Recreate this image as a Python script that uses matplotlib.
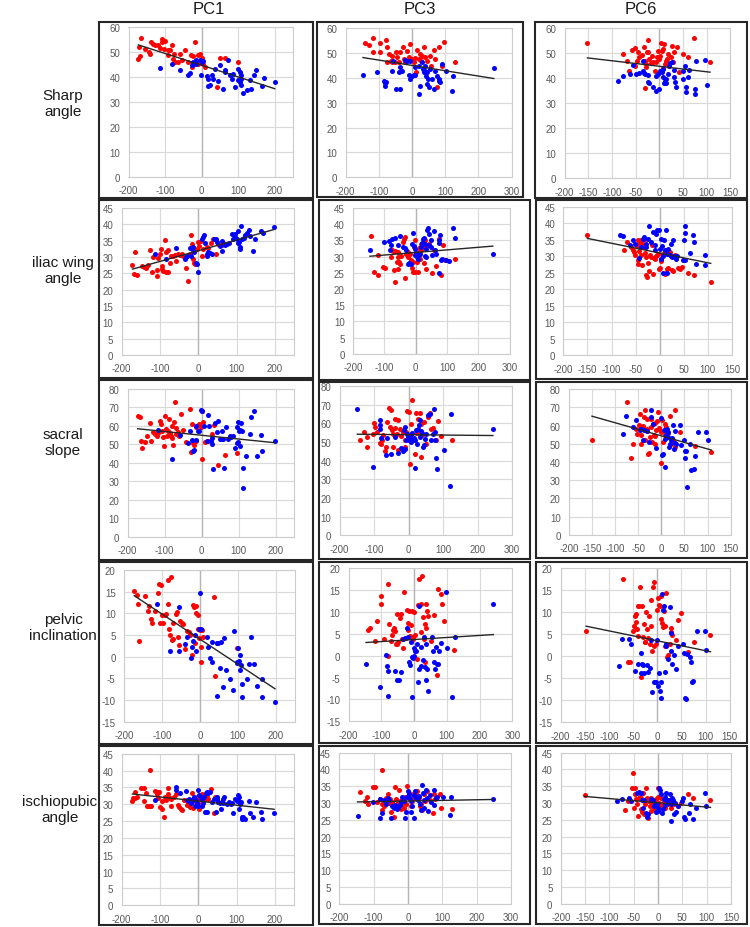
import numpy as np
import matplotlib
matplotlib.use('Agg')
import matplotlib.pyplot as plt
from matplotlib.patches import Rectangle

plt.rcParams['font.family'] = ['Liberation Sans', 'DejaVu Sans']
plt.rcParams['axes.unicode_minus'] = False

# ---------------- labels / ticks ----------------
COL_TITLES = ['PC1', 'PC3', 'PC6']
ROW_TITLES = ['Sharp\nangle', 'iliac wing\nangle', 'sacral\nslope', 'pelvic\ninclination', 'ischiopubic\nangle']

X_TICKS = [[-200, -100, 0, 100, 200], [-200, -100, 0, 100, 200, 300],
           [-200, -150, -100, -50, 0, 50, 100, 150]]
X_LIMS = [(-200, 250), (-200, 300), (-200, 150)]
Y_TICKS = [list(range(0, 61, 10)), list(range(0, 46, 5)), list(range(0, 81, 10)),
           list(range(-15, 21, 5)), list(range(0, 46, 5))]

# ---------------- data (x = PC score, y = measure) ----------------
SHARP_PC1_RED = [(-165,55.6),(-171,52),(-173,47.3),(-168,48.4),(-138,54),(-145,50),(-141,49.3),(-127,52.7),(-132,53.3),(-107,55.3),(-109,54),(-100,54.3),(-102,51.3),(-114,51.6),(-91,50.7),(-82,52.7),(-86,51),(-75,49.3),(-77,47.3),(-73,46),(-59,49.3),(-45,50.7),(-55,46.7),(-36,46),(-29,48.7),(-18,54),(-23,48.4),(-11,48.7),(-5,49.3),(0,47.6),(-18,45.3),(-9,45.3),(-27,44),(5,45.3),(9,44),(50,47.6),(64,47.6),(100,46),(41,36),(-64,46),(-93,48.9),(-118,52.7),(-155,51.3)]
SHARP_PC1_BLUE = [(-115,43.6),(-82,45.3),(-59,42.7),(-36,40.7),(-32,41.7),(-23,46),(-16,46.7),(-14,45.3),(-5,47),(0,46),(5,46.3),(-2,40.7),(14,40.4),(18,39.3),(29,40.9),(36,43.3),(45,38.3),(50,45),(23,37),(18,36.4),(59,35.3),(64,42),(73,46.7),(77,40.7),(86,41.3),(91,36),(100,43.3),(105,42),(109,40.7),(109,39.3),(105,38),(107,37),(114,33.7),(123,35),(135,35.3),(132,38.7),(144,40.9),(150,42.7),(164,36.4),(171,39.6),(200,38),(82,39.3),(64,43),(-27,45),(32,39.3),(100,38.7)]

SHARP_PC3_RED = [(-141,53.9),(-129,53.1),(-119,55.8),(-119,50.5),(-98,53.9),(-98,50.5),(-78,55.3),(-75,52.2),(-70,49.5),(-65,46.9),(-60,48.9),(-50,50.2),(-52,46.5),(-45,48.2),(-35,50.2),(-28,52.2),(-25,47.5),(-20,46.2),(-15,50.9),(-5,53.5),(-10,48.2),(0,47.5),(5,46.2),(10,47.8),(15,51.3),(20,47.5),(25,49.5),(28,46.9),(30,48.9),(35,52.2),(40,48.2),(45,46.9),(55,48.9),(65,51.3),(58,44.8),(68,47.5),(82,52.2),(95,54.5),(90,44.8),(129,46.2),(12,42.4),(75,36.1),(-60,46.5),(-40,46.2),(-75,46.2)]
SHARP_PC3_BLUE = [(-148,41.1),(-106,42.4),(-85,38.8),(-82,37.9),(-78,38.2),(-82,36.8),(-62,42.8),(-58,46.9),(-50,35.5),(-35,35.5),(-40,42.2),(-30,42.8),(-22,47.3),(-15,46.9),(-5,46.9),(-10,41.1),(-5,39.5),(0,40.6),(5,41.1),(10,41.1),(20,33.5),(25,36.8),(30,46.2),(32,43.5),(38,44.8),(35,42.2),(40,42.8),(42,40.8),(45,42.2),(48,39.5),(45,37.5),(50,36.1),(55,43.5),(60,39.5),(65,35.5),(70,42.8),(75,40.8),(80,39.5),(85,38.2),(82,38.8),(90,45.5),(102,42.8),(121,34.8),(123,40.8),(246,43.8),(10,44.2),(20,44.8),(-35,44.2)]

SHARP_PC6_RED = [(-152,54),(-77,49.6),(-69,46.9),(-58,51.3),(-51,51.9),(-51,44.9),(-48,46.9),(-46,50.3),(-42,48.3),(-37,49.2),(-32,52.3),(-30,46.9),(-28,45.6),(-27,50.3),(-23,55.3),(-21,47.6),(-23,50.5),(-28,44.3),(-16,48.9),(-13,46.3),(-9,43),(-6,46.3),(-4,48.3),(-2,50.9),(0,47.6),(1,48.9),(3,54),(5,50.9),(7,51.6),(10,53.6),(12,45.6),(14,46.9),(17,47.6),(19,49.6),(21,44.9),(24,48.3),(26,52.9),(28,46.5),(30,50.3),(37,52.3),(42,42.3),(49,49.6),(61,48.3),(73,55.9),(107,46.5),(-65,43),(-30,35.9),(8,43.9),(-18,46)]
SHARP_PC6_BLUE = [(-87,39),(-77,40.7),(-62,41.6),(-56,45.2),(-49,41.6),(-42,42),(-35,46.9),(-34,43),(-32,42),(-30,41.6),(-25,41.2),(-23,38.3),(-21,38),(-14,36.3),(-6,41),(-6,35),(0,35.6),(1,43),(5,42.3),(7,43.6),(8,40.3),(10,38),(12,39),(15,39.6),(19,41.6),(21,44.9),(23,46),(26,46.3),(30,43.4),(31,40.3),(33,38.3),(35,36.3),(51,43),(51,39.6),(54,44.9),(56,36.3),(56,34.3),(61,40.3),(63,43.4),(75,35.6),(75,33.6),(77,46.9),(96,47.3),(100,37.2),(-2,41.6),(14,38)]

ILIAC_PC1_RED = [(-172,27.5),(-165,31.6),(-167,24.8),(-161,24.5),(-148,27.1),(-143,26.8),(-137,26.5),(-132,27.5),(-126,32.2),(-122,25.5),(-117,29.9),(-109,26.1),(-107,24.3),(-104,29.6),(-100,30.9),(-97,32.4),(-96,26.3),(-91,25.8),(-87,35.2),(-85,31.4),(-83,25.5),(-78,25.5),(-78,32.2),(-74,28.3),(-70,30.4),(-65,30.2),(-61,30.6),(-57,28.8),(-52,30.9),(-48,30.6),(-43,30.9),(-39,30.4),(-33,26.5),(-28,22.8),(-22,30.9),(-19,36.7),(-17,33.9),(-13,29.4),(-10,28.3),(-9,32.2),(-4,32.4),(0,34.6),(2,33.4),(7,34.9),(9,30.4),(13,32.6),(22,33.2),(26,32.9),(33,34.4),(39,35.4),(45,30.9),(52,33.9),(61,33.6),(70,33.9),(-9,27.8),(-96,27.1)]
ILIAC_PC1_BLUE = [(-113,30.9),(-83,29.4),(-57,32.9),(-35,29.4),(-33,29.9),(-22,32.9),(-19,30.2),(-17,32.6),(-13,33.2),(-10,31.6),(-7,28.1),(-4,27.8),(0,25.5),(9,35.4),(13,36.2),(16,36.7),(22,30.4),(24,30.9),(26,31.6),(30,31.2),(35,30.9),(42,35.6),(45,35.4),(50,34.6),(57,33.4),(61,31.9),(63,34.9),(70,33.6),(74,33.9),(80,34.2),(87,37),(91,35.4),(96,36.2),(100,35.6),(103,34.4),(106,34.6),(109,33.2),(109,32.4),(111,39.5),(113,35.4),(120,35.9),(123,36.7),(126,37.5),(132,38.3),(135,36.5),(143,31.9),(148,35.6),(163,38),(170,37.3),(198,39.3),(104,38),(96,37),(-30,30.4),(17,34.4)]

ILIAC_PC3_RED = [(-141,36.3),(-132,25.2),(-120,24.2),(-120,30.4),(-104,26.8),(-98,26.6),(-79,29.9),(-75,31.9),(-72,31.7),(-69,25.7),(-67,22.1),(-65,31.7),(-61,28.3),(-58,29.9),(-56,26.3),(-54,28.3),(-51,27.8),(-46,30.1),(-40,34.5),(-37,35.5),(-33,23.5),(-30,30.9),(-26,31.4),(-24,29.9),(-19,30.7),(-14,29),(-12,26.6),(-8,25.2),(-5,33),(-3,35),(-1,25.2),(2,30.9),(5,28.3),(7,25.2),(10,32.7),(13,31.7),(16,31.9),(18,34),(23,33),(26,28),(29,35),(34,26.3),(39,33.5),(44,34),(52,24.9),(58,31.9),(66,27),(76,35.5),(81,24.4),(87,33.5),(92,29),(124,29.4),(-33,36),(-56,31.4),(13,29.4),(-8,28.3)]
ILIAC_PC3_BLUE = [(-146,31.9),(-101,34.5),(-86,34.8),(-83,31.9),(-79,33.5),(-77,35.5),(-65,35.8),(-58,33.5),(-51,36.3),(-40,33),(-35,32.7),(-30,32.1),(-26,27.8),(-22,28),(-16,27.6),(-12,34),(-8,37.3),(-5,33.2),(-3,32.4),(-1,30.4),(2,31.1),(5,29.9),(7,29.4),(10,30.4),(13,30.7),(16,33),(20,34.2),(23,35.5),(26,35.8),(29,30.1),(31,34),(34,32.4),(37,38.1),(39,38.9),(41,36.9),(44,33.5),(48,35),(50,33),(52,30.4),(58,37.9),(62,31.9),(66,30.9),(73,35),(76,34.2),(79,36.6),(81,29),(84,29.4),(97,28.8),(105,28.6),(119,38.9),(124,35.8),(246,30.7),(76,24.9),(34,29.9)]

ILIAC_PC6_RED = [(-150,36.4),(-74,32.1),(-67,34.4),(-60,32.9),(-55,31.9),(-53,31.3),(-52,30.3),(-48,33.1),(-46,28.8),(-45,27.8),(-44,34.1),(-42,31.6),(-39,30.3),(-38,34.9),(-37,27.3),(-35,33.9),(-33,32.9),(-31,31),(-30,35.4),(-28,24.3),(-26,23.8),(-24,28),(-23,25.6),(-21,30.3),(-19,29.8),(-17,33.4),(-14,24.8),(-10,29.3),(-7,30),(-5,30.3),(-3,30.6),(-2,26.3),(0,26.6),(2,28.6),(3,29.3),(7,30.8),(10,24.8),(12,31.6),(14,25),(16,26.3),(17,26.6),(21,31.3),(24,30),(26,25.8),(28,25.6),(38,26.6),(42,26.3),(46,26.8),(59,25),(71,24.3),(106,22.2),(-46,35.1),(-28,29.8),(-12,29.6),(31,30.3)]
ILIAC_PC6_BLUE = [(-83,36.4),(-76,36.1),(-62,33.4),(-55,35.1),(-52,33.9),(-44,29.6),(-39,32.9),(-35,35.4),(-33,35.9),(-28,33.9),(-24,35.4),(-23,39.1),(-19,34.4),(-14,37.4),(-10,33.4),(-7,36.9),(-5,38.1),(-2,37.9),(0,32.4),(2,35.4),(3,29.3),(5,33.1),(7,30),(9,34.9),(10,31.9),(14,37.9),(16,30.8),(17,32.4),(21,30.3),(23,33.9),(26,29.8),(28,35.1),(30,30),(33,29.3),(37,30),(48,28.8),(51,34.9),(52,29),(52,39.1),(53,37.1),(64,31),(69,36.4),(71,34.4),(76,27.8),(95,30.3),(95,27.3),(7,25),(16,25),(-10,31.9),(-28,32.9)]

SACRAL_PC1_RED = [(-173,65.5),(-167,65),(-164,51.7),(-162,48),(-149,54.7),(-140,61.4),(-137,51.6),(-131,56.5),(-126,55.6),(-122,54.7),(-117,55.9),(-113,62.8),(-110,61),(-106,57.4),(-104,53.8),(-101,49.3),(-97,58.3),(-95,54.7),(-92,57),(-88,63.7),(-86,55.9),(-83,54.7),(-81,60.1),(-79,53.4),(-77,49.8),(-74,61.9),(-72,72.7),(-70,58.8),(-68,55.6),(-63,56.5),(-61,54.7),(-56,66.4),(-50,57.7),(-41,51.1),(-32,69.1),(-29,45.7),(-25,61),(-23,50.5),(-20,49.8),(-16,51.6),(-14,59.5),(-7,61),(-2,59.5),(0,68.2),(2,42.1),(5,61.9),(9,51.1),(18,51.6),(29,55.6),(34,60.6),(43,39),(63,44.4),(97,45.1),(-153,51.1),(-99,65.5)]
SACRAL_PC1_BLUE = [(-117,57.7),(-81,42.1),(-59,55.2),(-36,50.5),(-32,57.4),(-27,52.3),(-23,46.6),(-20,46.9),(-16,60.1),(-14,52.3),(-11,57.4),(-7,57),(-2,68.6),(2,68.2),(7,60.1),(14,52),(16,66),(20,60.1),(25,51.6),(29,50.2),(29,53.4),(32,36.7),(36,61.4),(41,56.5),(45,62.8),(50,52.9),(54,52.9),(59,52.9),(61,37.2),(65,59.2),(72,52.9),(77,54.7),(79,54.1),(86,54.7),(90,48),(95,50.5),(97,59.2),(99,61.9),(101,57.4),(104,57.7),(104,49.3),(106,61.4),(110,57.4),(113,37.2),(113,26.4),(119,43.9),(131,55.6),(133,65),(142,68.2),(149,43.9),(160,55.2),(164,46.2),(198,51.6),(99,51.1),(54,57.4)]

SACRAL_PC3_RED = [(-142,50.9),(-129,55.4),(-120,52.7),(-120,47.3),(-103,54.5),(-101,60.2),(-97,58),(-91,55.4),(-84,49.5),(-81,48.8),(-77,51.3),(-75,53.6),(-70,45.2),(-65,47.3),(-62,60.7),(-58,68.4),(-55,58),(-52,67.3),(-48,56.6),(-45,54.1),(-41,62.5),(-39,57.7),(-33,54.5),(-31,61.6),(-26,57.1),(-21,53),(-16,55.4),(-12,47.3),(-10,50.9),(-7,55.4),(-4,66.6),(0,66.1),(3,38.4),(6,54.1),(8,59.8),(12,50.9),(10,72.5),(19,43.8),(22,65.5),(25,54.8),(27,62.5),(32,65.5),(35,59.5),(37,42),(39,53.6),(44,60.7),(51,49.1),(56,63.4),(61,65.5),(66,57.1),(71,57.7),(80,50.9),(85,61.3),(93,53),(126,50.9),(-31,45.5),(-45,47.3)]
SACRAL_PC3_BLUE = [(-149,67.9),(-103,36.6),(-84,61.6),(-84,58.9),(-84,57.1),(-81,52.3),(-65,42.9),(-62,52.3),(-52,43.4),(-39,52.7),(-31,44.1),(-23,47),(-16,45.2),(-14,56.3),(-12,58),(-10,46.4),(-7,50.9),(-4,54.5),(-2,52.7),(0,51.3),(3,53),(6,50),(8,50.9),(10,54.8),(15,52.3),(19,36.3),(22,56.3),(25,48.8),(27,57.1),(29,58.9),(32,61.6),(35,55.9),(39,54.8),(42,47.3),(44,48.2),(46,51.8),(51,54.1),(56,64.3),(61,64.8),(66,50.9),(71,54.1),(73,67.9),(75,50.9),(77,55.4),(80,41.6),(83,35.7),(102,45.9),(119,26.3),(122,65.2),(244,57.1),(32,52.7),(17,51.3)]

SACRAL_PC6_RED = [(-150,51.9),(-74,73),(-66,42.4),(-61,50.1),(-54,58.3),(-52,55.2),(-49,60.2),(-47,66.6),(-45,54.7),(-43,49.7),(-40,59.6),(-38,64.8),(-36,51.9),(-35,68.4),(-32,57.1),(-30,58.3),(-29,44.2),(-27,45),(-25,53.8),(-23,59.3),(-22,63.9),(-20,51),(-18,61.1),(-16,54.7),(-14,61.5),(-13,54.1),(-11,57.4),(-9,62.6),(-7,67.5),(-6,58.9),(-4,58.3),(-1,39.4),(0,56.5),(1,62.9),(4,51),(6,57.1),(7,61.1),(9,54.7),(11,59.3),(13,53.8),(14,56),(18,65.1),(20,49.7),(23,52.8),(25,51.9),(29,48.3),(30,68.8),(40,56.5),(72,48.6),(108,45.5),(-32,63.9),(-13,50.1)]
SACRAL_PC6_BLUE = [(-83,55.6),(-76,65.1),(-61,59.3),(-54,62.9),(-47,57.8),(-43,58.3),(-40,52.3),(-38,57.8),(-32,57.1),(-27,51),(-23,68.4),(-22,64.8),(-18,61.1),(-11,47.9),(0,64.4),(1,43.7),(4,44.6),(6,57.4),(7,37.2),(9,52.8),(11,54.7),(13,58.3),(14,56.5),(16,48.3),(18,49.7),(20,51.9),(23,53.4),(25,60.2),(27,47.3),(29,57.1),(30,50.5),(32,49.7),(40,60.2),(42,49.2),(49,52.3),(51,46.1),(52,42.4),(54,46.1),(56,26.2),(63,49.7),(65,35.8),(71,36.3),(74,43.1),(79,56.5),(97,56.5),(100,51.9),(14,53.8)]

PELVIC_PC1_RED = [(-173,15.2),(-167,14.2),(-164,12.2),(-161,3.7),(-145,14),(-138,10.6),(-135,11.7),(-129,8.8),(-126,7.7),(-119,10.6),(-110,14.6),(-107,16.8),(-106,7.8),(-103,16.5),(-99,9.6),(-97,7.8),(-92,9.6),(-88,9.8),(-85,17.7),(-85,12.2),(-82,6.3),(-79,5),(-75,18.3),(-73,3.8),(-70,4),(-64,9.8),(-59,10.2),(-57,4.6),(-55,2.7),(-53,8.3),(-48,7.7),(-44,7.5),(-38,1.7),(-33,6),(-29,5.8),(-26,5.2),(-22,0.4),(-18,11.9),(-15,11.4),(-13,3.1),(-11,11.7),(-9,10),(-6,9.6),(-4,6.3),(-3,4.2),(0,6.2),(3,2.2),(4,-1.2),(6,6.2),(9,4.6),(38,13.7),(41,-4.5),(44,3.2),(97,1.9),(-26,5),(-70,7.7)]
PELVIC_PC1_BLUE = [(-114,12.2),(-79,1.4),(-55,11.4),(-55,1.4),(-38,2.9),(-33,4.5),(-24,-0.2),(-22,2.2),(-18,3.7),(-13,5),(-9,1.4),(-3,6.3),(0,14.6),(3,6.3),(18,4.5),(22,2.2),(26,-0.2),(31,3.5),(33,-1.2),(44,3.2),(48,3.2),(53,-2.7),(57,3.5),(62,-7.1),(64,4.2),(70,-3.1),(79,-5.2),(88,-7.7),(91,6),(97,-1.2),(99,-1.4),(101,1.9),(103,-0.9),(106,-3.1),(108,-1.9),(110,-6.2),(112,-9.2),(123,-5.2),(129,-1.7),(136,4.5),(143,-1.7),(150,-6.8),(163,-9.2),(164,-5.2),(198,-10.4),(44,-9.1),(106,0.4)]

PELVIC_PC3_RED = [(-142,5.9),(-134,6.2),(-120,3.4),(-114,7.8),(-102,11.8),(-102,13.5),(-81,16.4),(-79,0),(-76,7.2),(-71,3.4),(-69,4.7),(-66,5.9),(-61,6.2),(-59,5.7),(-56,2.7),(-53,9.5),(-51,2.7),(-49,3.2),(-43,8.5),(-39,9.5),(-36,3.7),(-33,1.7),(-30,14.6),(-25,4),(-22,10.5),(-18,5.9),(-15,10.3),(-12,4.4),(-10,7),(-8,10.3),(-5,3.8),(-2,4.2),(0,10),(2,4.6),(8,-0.8),(12,11.6),(15,17.4),(20,5.3),(22,11.8),(25,18.1),(28,8.8),(30,3.8),(33,7.2),(36,6.2),(33,-1.4),(36,11.8),(39,10.3),(43,9.1),(51,3.4),(61,9.3),(69,-4.4),(73,15.1),(83,14.1),(86,11.8),(91,8),(122,1.4),(-91,3.8),(-20,7.5)]
PELVIC_PC3_BLUE = [(-147,-1.9),(-104,-7.2),(-86,0.2),(-83,-2.4),(-81,-9.1),(-79,-3.4),(-59,-3.4),(-51,-5.5),(-46,-5.5),(-41,-3.7),(-33,3.8),(-28,4),(-22,6.2),(-18,4.2),(-15,-1.4),(-12,-2.1),(-10,3.2),(-8,-0.4),(-5,-0.4),(-2,-0.6),(0,0),(2,1.1),(5,1.1),(8,2.7),(12,-6.1),(15,11.4),(15,-3),(20,1.9),(22,-2.4),(28,-1.1),(30,4.2),(33,-2.7),(36,-5.5),(39,-3),(43,-8),(56,4.2),(59,1.1),(61,-1.4),(63,-3),(66,1.9),(69,-1.9),(73,-1.9),(76,1.1),(81,2.9),(96,14.5),(99,1.7),(117,-9.5),(124,4.2),(242,11.8),(0,1.7),(-8,-9.5),(36,2.7)]

PELVIC_PC6_RED = [(-147,5.8),(-71,17.6),(-61,-1.4),(-57,-1.2),(-50,5.8),(-48,7),(-46,9.1),(-45,9.6),(-43,7.7),(-41,6.2),(-39,11.5),(-37,11.4),(-35,15.7),(-33,-4.8),(-32,11.4),(-30,4.3),(-28,7.3),(-26,3.2),(-25,3.3),(-23,10),(-21,6.2),(-19,4.1),(-18,9.1),(-16,2.8),(-14,7),(-12,12.7),(-11,1.3),(-9,15.7),(-7,2.4),(-6,17),(-2,2.8),(0,10.6),(1,13.2),(3,11.7),(5,11.5),(7,13.8),(8,8.5),(10,7.6),(12,6.6),(14,10.2),(15,7),(19,14.5),(21,-0.2),(22,0.2),(26,2.8),(28,5.5),(29,6.4),(30,4.8),(39,3.6),(43,8.3),(50,9.8),(63,0.9),(76,3.3),(110,4.8),(15,2.4),(-40,4.7)]
PELVIC_PC6_BLUE = [(-80,-2.1),(-73,3.9),(-59,3.9),(-54,2.8),(-47,-3.3),(-39,-1.7),(-34,-3.8),(-33,0.8),(-32,-1.7),(-30,-2),(-28,-3.8),(-21,-2),(-19,-3.6),(-16,-2.7),(-12,3.8),(-11,-8.2),(-6,-5.9),(-2,-5.8),(0,3.6),(1,-6.8),(3,-3.8),(5,-7.8),(7,-5.8),(8,-9.5),(10,14.2),(12,10.6),(14,11.4),(15,-3.5),(17,2.8),(19,2.4),(22,-0.5),(26,11.1),(28,5.3),(29,1.1),(30,-1.7),(34,0.3),(39,-2.9),(43,2.3),(53,2.8),(55,0.8),(57,-9.5),(60,-9.7),(62,0.5),(67,-0.2),(70,-1.2),(72,-5.9),(74,-5.5),(83,5.8),(99,5.8),(101,1.5)]

ISCHIO_PC1_RED = [(-172,31),(-170,32),(-165,33.7),(-165,32),(-161,32.3),(-150,34.7),(-143,34.7),(-141,31),(-137,33.3),(-135,29.5),(-129,29.5),(-126,40.2),(-123,29.5),(-113,34),(-109,33),(-106,33.7),(-104,32),(-102,33.7),(-100,29.3),(-96,31),(-94,28.7),(-89,26.3),(-87,32.3),(-83,31.3),(-80,34.7),(-78,33),(-74,32),(-70,31.7),(-63,32.3),(-57,33),(-54,29.7),(-50,29.3),(-45,28.7),(-42,28.3),(-37,31.3),(-30,29.7),(-26,30.3),(-22,29.3),(-17,33.5),(-16,30.7),(-13,29),(-9,32),(-4,32.3),(-2,30.3),(2,28.7),(4,31.5),(9,33),(10,32.3),(16,31.3),(22,32.3),(26,31.7),(33,34.5),(42,27.5),(43,32.3),(52,30.7),(-70,29.5)]
ISCHIO_PC1_BLUE = [(-113,31.3),(-57,35),(-57,34.3),(-48,33.3),(-33,34),(-30,31.3),(-24,31.7),(-22,30.7),(-19,30.3),(-17,31),(-13,31.5),(-10,32.3),(-9,29.5),(-7,31.3),(-4,30.3),(-2,29.5),(0,34.3),(2,32.7),(7,32.3),(10,31.5),(13,30.3),(16,32.3),(17,27.7),(19,33.3),(22,33.7),(24,27.7),(26,33.5),(30,33.7),(37,30.7),(42,31.7),(45,27.7),(48,31.5),(50,32.3),(52,30.7),(57,30.3),(59,28.5),(63,30.7),(65,31.7),(68,32.3),(74,30),(80,30.7),(85,30),(89,30.3),(91,27.3),(96,31.7),(100,31),(103,32.7),(104,31.3),(106,32.3),(106,28.5),(109,30),(111,30.7),(113,26.3),(115,25.7),(117,26.3),(122,25.7),(132,31),(135,27.5),(143,26.3),(150,30.7),(163,27.7),(167,25.7),(198,27.5),(65,30.3),(9,29.5)]

ISCHIO_PC3_RED = [(-140,33.3),(-126,30.6),(-118,31.8),(-116,29.6),(-102,34.8),(-95,34.8),(-89,30.4),(-82,31.1),(-77,29.6),(-76,27.8),(-70,29.1),(-63,31.4),(-58,32.6),(-56,30.1),(-53,31.1),(-50,27.4),(-46,30.4),(-41,25.8),(-37,34.8),(-34,31.1),(-31,29.8),(-27,33.8),(-24,30.6),(-21,28.1),(-17,29.8),(-12,28.6),(-8,31.8),(-5,29.6),(-2,35.1),(2,33.1),(5,31.1),(8,29.1),(12,30.6),(15,32.6),(19,31.4),(24,32.4),(27,33.6),(31,31.4),(34,29.1),(37,29.8),(41,27.8),(46,32.8),(50,30.6),(56,33.6),(63,30.8),(73,27.1),(76,32.6),(79,31.1),(92,32.6),(95,28.4),(128,28.1),(-76,39.7)]
ISCHIO_PC3_BLUE = [(-147,26.1),(-102,30.4),(-82,31.1),(-82,25.4),(-76,27.1),(-70,30.8),(-63,29.8),(-58,31.4),(-56,30.8),(-50,25.4),(-46,29.1),(-41,28.4),(-37,29.4),(-31,28.1),(-29,28.6),(-24,29.4),(-21,30.4),(-17,31.8),(-12,30.6),(-8,25.4),(-5,27.4),(-2,31.8),(0,33.6),(2,32.8),(5,31.4),(8,27.4),(10,30.6),(12,29.1),(17,25.4),(21,33.6),(24,31.4),(27,31.8),(29,30.8),(31,32.1),(34,29.6),(39,27.8),(41,35.4),(44,33.1),(46,30.8),(48,28.6),(53,33.8),(56,31.4),(58,27.6),(63,32.4),(68,30.4),(76,29.4),(77,33.8),(82,31.4),(85,31.8),(102,31.8),(121,26.4),(124,31.8),(247,31.1),(17,32.4)]

ISCHIO_PC6_RED = [(-151,32.4),(-67,27.8),(-62,30.6),(-53,34.6),(-51,39),(-49,28.6),(-48,32.8),(-47,34.4),(-45,31.1),(-43,29.6),(-40,31.4),(-38,31.8),(-36,31.4),(-34,28.1),(-33,27.4),(-31,33.1),(-29,26.6),(-27,30.8),(-26,29.8),(-24,34.4),(-22,31.4),(-21,25.6),(-19,30.6),(-17,29.1),(-15,30.4),(-14,31.4),(-10,29.8),(-8,28.6),(-7,27.8),(-5,31.1),(-3,29.4),(-1,31.8),(0,28.1),(1,34.6),(3,30.1),(5,28.4),(7,31.4),(8,29.8),(10,31.1),(12,29.1),(14,30.1),(15,28.4),(17,30.8),(21,29.6),(22,30.8),(26,28.6),(29,30.1),(33,29.6),(41,29.1),(47,30.1),(62,32.6),(72,31.4),(108,30.8),(-41,26.1),(-14,27.6)]
ISCHIO_PC6_BLUE = [(-84,30.6),(-74,31.1),(-60,31.4),(-55,30.6),(-43,33.1),(-40,33.4),(-36,33.1),(-33,30.8),(-31,28.6),(-29,30.8),(-24,27.1),(-22,25.8),(-21,26.6),(-15,31.1),(-10,30.8),(-8,29.1),(-5,27.4),(-3,29.6),(-1,27.6),(1,28.6),(3,34.4),(5,33.8),(7,32.6),(8,27.1),(10,28.1),(12,31.1),(14,31.8),(15,29.4),(17,33.1),(19,30.1),(21,30.8),(24,32.6),(26,29.8),(29,31.4),(31,30.8),(33,26.6),(36,30.1),(38,27.4),(41,29.1),(49,30.6),(51,31.4),(53,25.8),(55,25.1),(63,27.1),(65,29.8),(72,25.1),(79,28.4),(97,33.1),(99,29.1),(27,24.6),(-7,29.8)]

PANEL_DATA = [
    [(SHARP_PC1_RED, SHARP_PC1_BLUE), (SHARP_PC3_RED, SHARP_PC3_BLUE), (SHARP_PC6_RED, SHARP_PC6_BLUE)],
    [(ILIAC_PC1_RED, ILIAC_PC1_BLUE), (ILIAC_PC3_RED, ILIAC_PC3_BLUE), (ILIAC_PC6_RED, ILIAC_PC6_BLUE)],
    [(SACRAL_PC1_RED, SACRAL_PC1_BLUE), (SACRAL_PC3_RED, SACRAL_PC3_BLUE), (SACRAL_PC6_RED, SACRAL_PC6_BLUE)],
    [(PELVIC_PC1_RED, PELVIC_PC1_BLUE), (PELVIC_PC3_RED, PELVIC_PC3_BLUE), (PELVIC_PC6_RED, PELVIC_PC6_BLUE)],
    [(ISCHIO_PC1_RED, ISCHIO_PC1_BLUE), (ISCHIO_PC3_RED, ISCHIO_PC3_BLUE), (ISCHIO_PC6_RED, ISCHIO_PC6_BLUE)],
]

# ---------------- layout (pixels: left, top, right, bottom) ----------------
W, H = 750, 928
PLOT_BOXES = [
    [(128.5, 28, 293, 178), (345.7, 29, 511.7, 178.3), (564.7, 29, 730.3, 179.3)],
    [(121.7, 209, 294, 356), (353, 209, 509.7, 354.7), (563.4, 208, 731.9, 356.3)],
    [(127.7, 389.8, 294, 537.8), (339.7, 387, 512.2, 536.4), (568.9, 390.3, 730.6, 535.7)],
    [(124, 571, 294.7, 722.7), (348.7, 569, 512.3, 722.4), (560.6, 569.3, 729.8, 723.3)],
    [(121.7, 754.8, 294, 906.3), (339.3, 753.7, 511, 904.7), (560.8, 753.7, 730.9, 904.7)],
]
FRAMES = [
    [(99, 23, 313, 199), (317, 23, 523, 198), (535, 23, 747, 199)],
    [(99, 201, 313, 379), (319, 201, 530, 381), (536, 201, 747, 380)],
    [(99, 381, 313, 561), (319, 383, 530, 560), (536, 383, 747, 559)],
    [(99, 563, 313, 745), (319, 563, 530, 744), (536, 563, 747, 744)],
    [(99, 747, 313, 926), (319, 747, 530, 925), (536, 747, 747, 925)],
]
COL_TITLE_POS = [(209, 10), (420, 10), (641, 10)]
ROW_TITLE_POS = [(63, 104), (63, 271), (63, 443), (63, 628), (60, 810)]

fig = plt.figure(figsize=(W / 100, H / 100), dpi=100)
fig.patch.set_facecolor('white')

GRID_C = '#d9d9d9'
TICK_C = '#595959'

for r in range(5):
    for c in range(3):
        l, t, rr, b = PLOT_BOXES[r][c]
        ax = fig.add_axes([l / W, 1 - b / H, (rr - l) / W, (b - t) / H])
        ax.set_xlim(*X_LIMS[c])
        ax.set_ylim(Y_TICKS[r][0], Y_TICKS[r][-1])
        ax.set_xticks(X_TICKS[c])
        ax.set_yticks(Y_TICKS[r])
        ax.tick_params(length=0, labelsize=7, colors=TICK_C, pad=6)
        ax.grid(True, color=GRID_C, lw=0.8, zorder=0)
        ax.set_axisbelow(True)
        for s in ax.spines.values():
            s.set_color('#cccccc')
            s.set_linewidth(0.8)
        ax.axvline(0, color='#b5b5b5', lw=1.0, zorder=1)
        red, blue = PANEL_DATA[r][c]
        rx, ry = zip(*red)
        bx, by = zip(*blue)
        ax.scatter(rx, ry, s=13, c='#ff0000', linewidths=0, zorder=3)
        ax.scatter(bx, by, s=13, c='#0000ff', linewidths=0, zorder=3)
        allx = np.array(rx + bx, dtype=float)
        ally = np.array(ry + by, dtype=float)
        k, m = np.polyfit(allx, ally, 1)
        xs = np.array([allx.min(), allx.max()])
        ax.plot(xs, k * xs + m, color='#262626', lw=1.0, zorder=4)

        fl, ft, fr, fb = FRAMES[r][c]
        fig.patches.append(Rectangle((fl / W, 1 - fb / H), (fr - fl) / W, (fb - ft) / H,
                                     transform=fig.transFigure, fill=False,
                                     ec='#262626', lw=1.5, zorder=10))

for (x, y), txt in zip(COL_TITLE_POS, COL_TITLES):
    fig.text(x / W, 1 - y / H, txt, ha='center', va='center', fontsize=12, color='#1a1a1a')
for (x, y), txt in zip(ROW_TITLE_POS, ROW_TITLES):
    fig.text(x / W, 1 - y / H, txt, ha='center', va='center', fontsize=11,
             color='#1a1a1a', multialignment='center', linespacing=1.2)

fig.savefig('out.png', dpi=100, facecolor='white')
